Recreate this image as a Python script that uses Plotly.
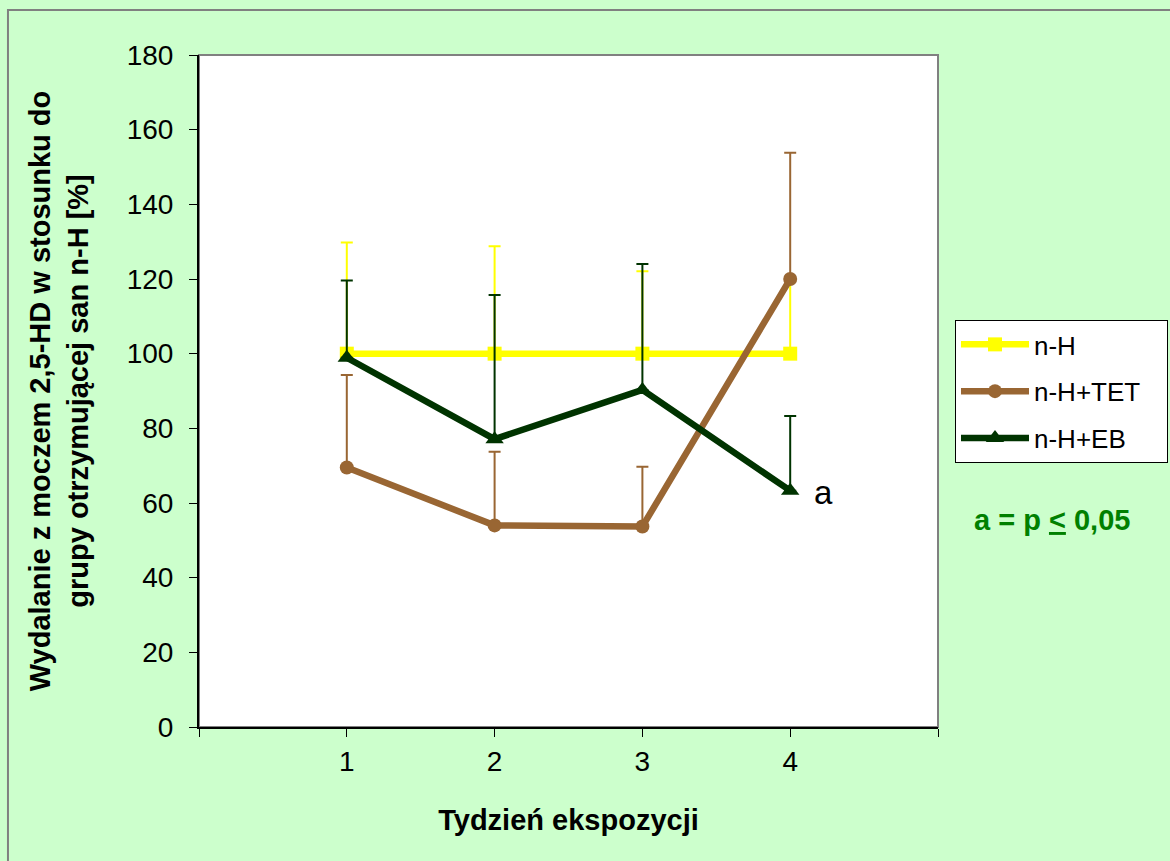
import plotly.graph_objects as go

# Week of exposure
weeks = [1, 2, 3, 4]

# 2,5-HD urinary excretion relative to the n-H group [%]
nh_values = [100, 100, 100, 100]
nh_err = [29.8, 28.8, 22.1, 20.0]

tet_values = [69.5, 54.0, 53.7, 120.0]
tet_err = [24.8, 19.7, 16.0, 33.8]

eb_values = [98.9, 77.1, 90.3, 63.3]
eb_err = [20.7, 38.6, 33.7, 20.0]

x_tickvals = [0, 1, 2, 3, 4, 5]
x_ticktext = ["", "1", "2", "3", "4", ""]

YELLOW = "#FFFF00"
BROWN = "#996633"
DKGREEN = "#003300"
BG = "#CCFFCC"
FONT = "Liberation Sans, Arial, sans-serif"
PAD = "\u00a0" * 3  # right padding inside the legend box

series = [
    ("n-H", nh_values, nh_err, YELLOW, "square", 14),
    ("n-H+TET", tet_values, tet_err, BROWN, "circle", 14),
    ("n-H+EB", eb_values, eb_err, DKGREEN, "triangle-up", 16),
]

fig = go.Figure()
for i, (name, vals, err, color, symbol, msize) in enumerate(series):
    fig.add_trace(go.Scatter(
        x=weeks, y=vals, name=name + PAD, mode="lines+markers",
        legendgroup=f"g{i}",
        line=dict(color=color, width=6.5),
        marker=dict(color=color, symbol=symbol, size=msize),
        error_y=dict(type="data", symmetric=False, array=err,
                     arrayminus=[0] * len(err), color=color,
                     thickness=2, width=6),
    ))

# significance mark next to the last n-H+EB point
fig.add_annotation(x=weeks[3], y=eb_values[3], text="a", showarrow=False,
                   xshift=33, yshift=-2,
                   font=dict(family=FONT, size=33, color="black"))

# significance legend
fig.add_annotation(xref="paper", yref="paper", x=1.154, y=0.308,
                   text="<b>a = p <u>&lt;</u> 0,05</b>", showarrow=False,
                   xanchor="center", yanchor="middle",
                   font=dict(family=FONT, size=29, color="#008000"))

# gray frame of the plot area (axis lines drawn on top in black)
fig.add_shape(type="rect", xref="paper", yref="paper", x0=0, y0=0, x1=1, y1=1,
              line=dict(color="#808080", width=2), layer="below")
# outer chart border
fig.add_shape(type="rect", xref="paper", yref="paper",
              x0=-0.2585, y0=-1, x1=2, y1=1.067,
              line=dict(color="#808080", width=2), layer="below")

fig.update_layout(
    width=1170, height=861,
    margin=dict(l=199, r=232, t=55, b=134, autoexpand=False),
    paper_bgcolor=BG, plot_bgcolor="white",
    font=dict(family=FONT, size=28, color="black"),
    showlegend=True,
    legend=dict(x=1.023, y=0.6057, xanchor="left", yanchor="top",
                bgcolor="white", bordercolor="black", borderwidth=1,
                font=dict(family=FONT, size=26, color="black"),
                itemwidth=68, tracegroupgap=10, traceorder="grouped"),
    xaxis=dict(range=[0, 5], tickvals=x_tickvals, ticktext=x_ticktext,
               showgrid=False, zeroline=False, showline=True,
               linecolor="black", linewidth=2, ticks="outside", ticklen=8,
               tickcolor="black", tickwidth=1,
               tickfont=dict(family=FONT, size=28),
               title=dict(text="<b>Tydzień ekspozycji</b>", standoff=34,
                          font=dict(family=FONT, size=29))),
    yaxis=dict(range=[0, 180], dtick=20, showgrid=False, zeroline=False,
               showline=True, linecolor="black", linewidth=2,
               ticks="outside", ticklen=8, tickcolor="black", tickwidth=1,
               ticklabelstandoff=10,
               tickfont=dict(family=FONT, size=28),
               title=dict(text="<b>Wydalanie z moczem 2,5-HD w stosunku do<br>grupy otrzymującej san n-H [%]</b>",
                          standoff=30, font=dict(family=FONT, size=29))),
)

fig.write_html("out.html")
